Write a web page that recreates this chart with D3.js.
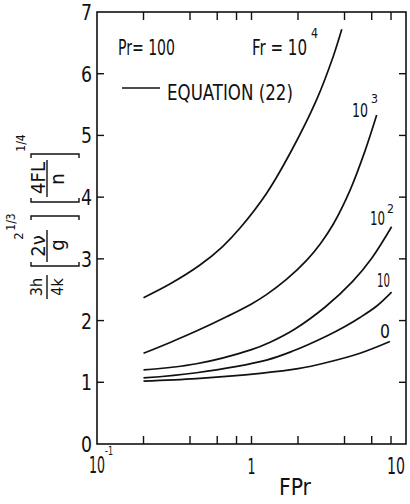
<!DOCTYPE html>
<html>
<head>
<meta charset="utf-8">
<script src="https://cdn.jsdelivr.net/npm/d3@7"></script>
<style>
  body { margin: 0; background: #fff; }
  svg text { font-family: "Liberation Sans Narrow", "Arial Narrow", "DejaVu Sans Condensed", sans-serif; fill: #111; }
</style>
</head>
<body>
<svg id="chart" width="410" height="504"></svg>
<script>
// Heat-transfer correlation, Pr = 100, one curve per Froude number
const fr4X = [0.2, 0.3, 0.464, 0.65, 0.843, 1.25, 1.82, 2.64, 3.38, 3.84];
const fr4Y = [2.37, 2.60, 2.90, 3.20, 3.50, 4.06, 4.76, 5.58, 6.28, 6.72];

const fr3X = [0.2, 0.3, 0.44, 0.7, 1.0, 1.25, 1.69, 2.28, 2.8, 3.38, 4.34, 5.43, 6.46];
const fr3Y = [1.47, 1.65, 1.83, 2.07, 2.27, 2.42, 2.67, 2.98, 3.25, 3.56, 4.11, 4.75, 5.33];

const fr2X = [0.2, 0.44, 1.0, 1.32, 1.9, 3.0, 4.5, 6.0, 8.07];
const fr2Y = [1.20, 1.30, 1.53, 1.65, 1.86, 2.22, 2.63, 3.01, 3.52];

const fr1X = [0.2, 0.44, 1.25, 1.87, 3.07, 4.0, 5.04, 6.5, 8.07];
const fr1Y = [1.07, 1.155, 1.36, 1.51, 1.75, 1.90, 2.05, 2.24, 2.46];

const fr0X = [0.2, 0.44, 1.14, 2.0, 3.07, 5.04, 7.87];
const fr0Y = [1.02, 1.06, 1.145, 1.22, 1.32, 1.47, 1.66];

const yTicks = [0, 1, 2, 3, 4, 5, 6, 7];
const xMinorTicks = [0.2, 0.4, 0.6, 0.8, 1, 2, 4, 6, 8];

const series = [
  { x: fr4X, y: fr4Y }, { x: fr3X, y: fr3Y }, { x: fr2X, y: fr2Y },
  { x: fr1X, y: fr1Y }, { x: fr0X, y: fr0Y }
];

const svg = d3.select("#chart");
const x = d3.scaleLog().domain([0.1, 10]).range([97, 406]);
const y = d3.scaleLinear().domain([0, 7]).range([444, 12]);
const ink = "#111";

// text helper: squeezes the glyphs horizontally to the given width (narrow lettering)
function label(px, py, str, size, width, anchor) {
  const t = svg.append("text").attr("font-size", size).text(str);
  const natural = t.node().getComputedTextLength();
  const w = width || natural;
  const sx = w / natural;
  const left = anchor === "end" ? px - w : anchor === "middle" ? px - w / 2 : px;
  t.attr("transform", `translate(${left},${py}) scale(${sx},1)`);
  return t;
}

// frame
svg.append("rect")
  .attr("x", x(0.1)).attr("y", y(7))
  .attr("width", x(10) - x(0.1)).attr("height", y(0) - y(7))
  .attr("fill", "none").attr("stroke", ink).attr("stroke-width", 1.6);

// inward ticks on all four sides
const tickG = svg.append("g").attr("stroke", ink).attr("stroke-width", 1.4);
xMinorTicks.forEach(v => {
  tickG.append("line").attr("x1", x(v)).attr("x2", x(v)).attr("y1", y(0)).attr("y2", y(0) - 8);
  tickG.append("line").attr("x1", x(v)).attr("x2", x(v)).attr("y1", y(7)).attr("y2", y(7) + 8);
});
yTicks.slice(1, -1).forEach(v => {
  tickG.append("line").attr("x1", x(0.1)).attr("x2", x(0.1) + 7).attr("y1", y(v)).attr("y2", y(v));
  tickG.append("line").attr("x1", x(10)).attr("x2", x(10) - 7).attr("y1", y(v)).attr("y2", y(v));
});

// y tick labels
yTicks.forEach(v => label(x(0.1) - 5, y(v) + 8, String(v), 22, 11, "end"));

// x tick labels
label(x(0.1) - 8, 473, "10", 23, 16);
label(x(0.1) + 8, 455, "-1", 12, 8);
label(x(1), 474, "1", 22, 8, "middle");
label(x(10) - 19, 474, "10", 23, 18);

// x axis title
label(279, 495, "FPr", 23, 32);

// curves
const line = d3.line().x(d => x(d[0])).y(d => y(d[1])).curve(d3.curveCatmullRom.alpha(0.5));
series.forEach(s => {
  const pts = s.x.map((v, i) => [v, s.y[i]]);
  svg.append("path").attr("d", line(pts)).attr("fill", "none")
    .attr("stroke", ink).attr("stroke-width", 1.7);
});

// header texts
label(118, 55, "Pr= 100", 21, 57);
label(252, 55, "Fr = 10", 21, 55);
label(311, 38, "4", 14, 7);

// legend
svg.append("line").attr("x1", 122).attr("x2", 160).attr("y1", 88).attr("y2", 88)
  .attr("stroke", ink).attr("stroke-width", 1.7);
label(167, 100, "EQUATION (22)", 22, 126);

// curve labels
label(352, 117, "10", 20, 16);
label(371, 103, "3", 13, 7);
label(370, 225, "10", 20, 15);
label(387, 213, "2", 13, 7);
label(377, 287, "10", 20, 13);
label(380, 338, "0", 20, 10);

// rotated y-axis title: 3h/4k [2ν²/g]^(1/3) [4FL/n]^(1/4)
function rtext(sx, sy, str, size) {
  svg.append("text").attr("transform", `translate(${sx},${sy}) rotate(-90)`)
    .attr("text-anchor", "middle").attr("dominant-baseline", "central")
    .attr("font-size", size).text(str);
}
function hbar(xc, y1, y2) {
  svg.append("line").attr("x1", xc).attr("x2", xc).attr("y1", y1).attr("y2", y2)
    .attr("stroke", ink).attr("stroke-width", 1.4);
}
function bracket(x1, x2, yb, dir) {
  // dir = -1: opening bracket (serifs point up), +1: closing bracket (serifs point down)
  const s = 4 * (dir < 0 ? -1 : 1);
  svg.append("path")
    .attr("d", `M${x1},${yb + s}L${x1},${yb}L${x2},${yb}L${x2},${yb + s}`)
    .attr("fill", "none").attr("stroke", ink).attr("stroke-width", 1.4);
}
rtext(36, 287, "3h", 16);
hbar(47, 275, 299);
rtext(57, 287, "4k", 16);

bracket(31, 79, 266, -1);
rtext(38, 246, "2ν", 20);
hbar(47, 230, 262);
rtext(57, 245, "g", 20);
bracket(31, 79, 216, 1);
rtext(18, 236, "2", 13);
rtext(11, 222, "1/3", 12);

bracket(31, 79, 202, -1);
rtext(38, 178, "4FL", 20);
hbar(47, 160, 197);
rtext(57, 179, "n", 20);
bracket(31, 79, 154, 1);
rtext(21, 143, "1/4", 12);
</script>
</body>
</html>
